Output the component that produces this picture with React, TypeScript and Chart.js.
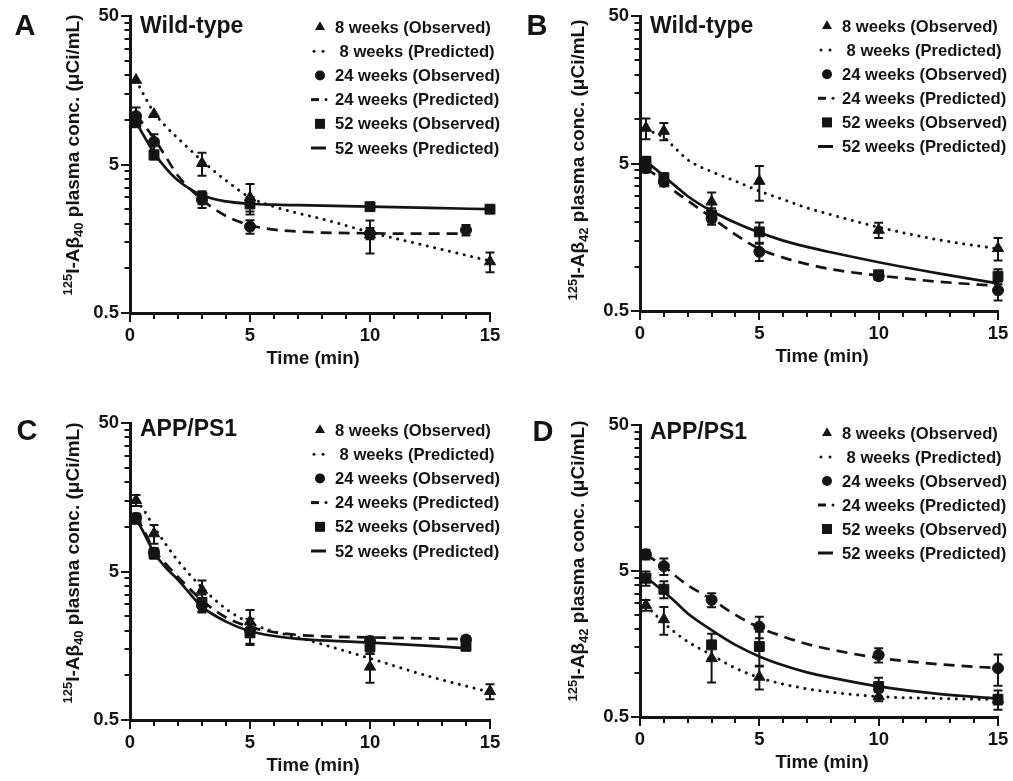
import React, { useEffect, useRef } from 'react';
import { Chart, registerables } from 'chart.js';

Chart.register(...registerables);

const FONT = '"Liberation Sans", Arial, Helvetica, sans-serif';
const INK = '#141414';

// ---- shared axes / times ----
const obsTimes15 = [0.25, 1, 3, 5, 10, 15];
const obsTimes14 = [0.25, 1, 3, 5, 10, 14];
const predTimes15 = [0.25, 0.5, 1, 1.5, 2, 3, 4, 5, 6, 7, 8, 10, 12.5, 15];
const predTimes14 = [0.25, 0.5, 1, 1.5, 2, 3, 4, 5, 6, 7, 8, 10, 12.5, 14];
const yMajorTicks = [0.5, 5, 50];
const yMinorTicks = [1, 1.5, 2, 2.5, 3, 3.5, 4, 4.5, 10, 15, 20, 25, 30, 35, 40, 45];
const xMajorTicks = [0, 5, 10, 15];
const xMinorTicks = [1, 2, 3, 4, 6, 7, 8, 9, 11, 12, 13, 14];
const legendLabels = [
  '8 weeks (Observed)',
  ' 8 weeks (Predicted)',
  '24 weeks (Observed)',
  '24 weeks (Predicted)',
  '52 weeks (Observed)',
  '52 weeks (Predicted)',
];
const xTitle = 'Time (min)';

// ---- Panel A: Wild-type, Aβ40 ----
const aObs8 = [18.5, 10.9, 5.1, 3.0, 1.68, 1.11];
const aErr8 = [0, 0, 0.9, 0.7, 0.42, 0.17];
const aPred8 = [18.5, 15.5, 11.2, 9.0, 7.5, 5.3, 3.9, 3.0, 2.6, 2.35, 2.15, 1.75, 1.4, 1.12];
const aObs24 = [10.6, 7.1, 2.9, 1.91, 1.72, 1.81];
const aErr24 = [1.5, 0.9, 0.35, 0.2, 0.15, 0.15];
const aPred24 = [10.8, 9.6, 7.5, 5.6, 4.2, 2.9, 2.25, 1.95, 1.82, 1.77, 1.74, 1.72, 1.71, 1.71];
const aObs52 = [9.7, 5.8, 3.0, 2.71, 2.6, 2.5];
const aErr52 = [0.8, 0.4, 0.3, 0.3, 0.1, 0.1];
const aPred52 = [9.7, 8.2, 6.0, 4.7, 3.9, 3.1, 2.82, 2.72, 2.68, 2.66, 2.64, 2.6, 2.55, 2.5];

// ---- Panel B: Wild-type, Aβ42 ----
const bObs8 = [8.7, 8.3, 2.75, 3.8, 1.77, 1.33];
const bErr8 = [1.4, 1.1, 0.43, 1.0, 0.21, 0.23];
const bPred8 = [8.5, 8.2, 7.5, 6.3, 5.3, 4.4, 3.8, 3.25, 2.85, 2.5, 2.25, 1.85, 1.52, 1.32];
const bObs24 = [4.65, 3.76, 2.12, 1.26, 0.86, 0.69];
const bErr24 = [0.3, 0.25, 0.2, 0.17, 0.05, 0.1];
const bPred24 = [4.6, 4.35, 3.75, 3.2, 2.8, 2.15, 1.65, 1.32, 1.15, 1.04, 0.96, 0.87, 0.79, 0.74];
const bObs52 = [5.15, 4.0, 2.24, 1.72, 0.88, 0.86];
const bErr52 = [0.4, 0.3, 0.25, 0.27, 0.05, 0.1];
const bPred52 = [5.1, 4.8, 4.1, 3.5, 3.0, 2.38, 1.98, 1.7, 1.5, 1.36, 1.25, 1.07, 0.9, 0.77];

// ---- Panel C: APP/PS1, Aβ40 ----
const cObs8 = [15.1, 9.0, 3.75, 2.3, 1.14, 0.78];
const cErr8 = [1.3, 1.3, 0.6, 0.45, 0.25, 0.09];
const cPred8 = [15.0, 13.5, 10.0, 7.6, 5.9, 3.9, 2.8, 2.25, 1.97, 1.8, 1.62, 1.3, 0.98, 0.77];
const cObs24 = [11.5, 6.7, 2.95, 2.0, 1.7, 1.74];
const cErr24 = [0.8, 0.5, 0.3, 0.4, 0.12, 0.1];
const cPred24 = [11.6, 10.0, 7.0, 5.6, 4.6, 3.2, 2.45, 2.12, 1.95, 1.87, 1.83, 1.8, 1.77, 1.75];
const cObs52 = [11.3, 6.6, 3.1, 1.93, 1.56, 1.57];
const cErr52 = [0.8, 0.5, 0.4, 0.3, 0.15, 0.1];
const cPred52 = [11.3, 9.6, 6.7, 5.3, 4.4, 2.9, 2.3, 1.98, 1.84, 1.76, 1.72, 1.66, 1.58, 1.52];

// ---- Panel D: APP/PS1, Aβ42 ----
const dObs8 = [2.92, 2.33, 1.26, 0.94, 0.69, 0.66];
const dErr8 = [0.25, 0.5, 0.4, 0.17, 0.05, 0.05];
const dPred8 = [2.9, 2.65, 2.2, 1.88, 1.64, 1.33, 1.08, 0.93, 0.84, 0.78, 0.74, 0.69, 0.67, 0.66];
const dObs24 = [6.5, 5.4, 3.17, 2.08, 1.33, 1.08];
const dErr24 = [0.5, 0.7, 0.35, 0.35, 0.15, 0.26];
const dPred24 = [6.5, 6.1, 5.4, 4.6, 4.0, 3.2, 2.5, 2.05, 1.78, 1.58, 1.45, 1.27, 1.15, 1.08];
const dObs52 = [4.46, 3.75, 1.56, 1.52, 0.81, 0.66];
const dErr52 = [0.5, 0.5, 0.3, 0.4, 0.12, 0.1];
const dPred52 = [4.5, 4.2, 3.6, 3.05, 2.56, 1.97, 1.56, 1.3, 1.13, 1.01, 0.93, 0.81, 0.72, 0.67];

type Group = { t: number[]; v: number[]; err: number[]; pt: number[]; pv: number[] };
type PanelCfg = {
  left: number; top: number; w: number; h: number;
  L: number; R: number; T: number; B: number;
  letter: string; letterX: number; letterY: number;
  title: string; titleX: number; titleY: number;
  sub: string; yLabX: number; yLabY: number;
  legX: number; legY: number; legDy: number;
  groups: Group[];
};

const panels: PanelCfg[] = [
  {
    left: 0, top: 0, w: 506, h: 390, L: 130, R: 490, T: 16, B: 313,
    letter: 'A', letterX: 25, letterY: 27, title: 'Wild-type', titleX: 140, titleY: 27,
    sub: '40', yLabX: 72, yLabY: 155, legX: 320, legY: 27, legDy: 24.2,
    groups: [
      { t: obsTimes15, v: aObs8, err: aErr8, pt: predTimes15, pv: aPred8 },
      { t: obsTimes14, v: aObs24, err: aErr24, pt: predTimes14, pv: aPred24 },
      { t: obsTimes15, v: aObs52, err: aErr52, pt: predTimes15, pv: aPred52 },
    ],
  },
  {
    left: 506, top: 0, w: 507, h: 390, L: 134, R: 492, T: 16, B: 311,
    letter: 'B', letterX: 31, letterY: 27, title: 'Wild-type', titleX: 144, titleY: 27,
    sub: '42', yLabX: 71, yLabY: 160, legX: 321, legY: 26, legDy: 24.1,
    groups: [
      { t: obsTimes15, v: bObs8, err: bErr8, pt: predTimes15, pv: bPred8 },
      { t: obsTimes15, v: bObs24, err: bErr24, pt: predTimes15, pv: bPred24 },
      { t: obsTimes15, v: bObs52, err: bErr52, pt: predTimes15, pv: bPred52 },
    ],
  },
  {
    left: 0, top: 390, w: 506, h: 391, L: 130, R: 490, T: 33, B: 330,
    letter: 'C', letterX: 27, letterY: 42, title: 'APP/PS1', titleX: 140, titleY: 40,
    sub: '40', yLabX: 72, yLabY: 173, legX: 320, legY: 40, legDy: 24.2,
    groups: [
      { t: obsTimes15, v: cObs8, err: cErr8, pt: predTimes15, pv: cPred8 },
      { t: obsTimes14, v: cObs24, err: cErr24, pt: predTimes14, pv: cPred24 },
      { t: obsTimes14, v: cObs52, err: cErr52, pt: predTimes14, pv: cPred52 },
    ],
  },
  {
    left: 506, top: 390, w: 507, h: 391, L: 134, R: 492, T: 35, B: 327,
    letter: 'D', letterX: 37, letterY: 43, title: 'APP/PS1', titleX: 144, titleY: 43,
    sub: '42', yLabX: 71, yLabY: 171, legX: 321, legY: 43, legDy: 24,
    groups: [
      { t: obsTimes15, v: dObs8, err: dErr8, pt: predTimes15, pv: dPred8 },
      { t: obsTimes15, v: dObs24, err: dErr24, pt: predTimes15, pv: dPred24 },
      { t: obsTimes15, v: dObs52, err: dErr52, pt: predTimes15, pv: dPred52 },
    ],
  },
];

const pointStyles = ['triangle', 'circle', 'rect'];
const pointRadii = [6.5, 5.5, 7];
const lineDashes: number[][] = [[0.1, 7.5], [11, 7], []];
const lineWidths = [3, 2.7, 2.7];
const lineCaps = ['round', 'butt', 'butt'];

function drawMarker(ctx: CanvasRenderingContext2D, style: string, x: number, y: number, r: number) {
  ctx.beginPath();
  if (style === 'triangle') {
    ctx.moveTo(x, y - r);
    ctx.lineTo(x + r * 0.866, y + r * 0.5);
    ctx.lineTo(x - r * 0.866, y + r * 0.5);
    ctx.closePath();
  } else if (style === 'circle') {
    ctx.arc(x, y, r, 0, Math.PI * 2);
  } else {
    ctx.rect(x - r, y - r, 2 * r, 2 * r);
  }
  ctx.fill();
}

function makePlugin(cfg: PanelCfg) {
  return {
    id: 'panelDecor' + cfg.letter,
    beforeDatasetsDraw(chart: any) {
      const ctx: CanvasRenderingContext2D = chart.ctx;
      const xs = chart.scales.x;
      const ys = chart.scales.y;
      ctx.save();
      ctx.strokeStyle = INK;
      ctx.lineWidth = 2;
      cfg.groups.forEach((g) => {
        g.t.forEach((t, i) => {
          const e = g.err[i];
          if (!e) return;
          const px = xs.getPixelForValue(t);
          const top = ys.getPixelForValue(g.v[i] + e);
          const bot = ys.getPixelForValue(Math.max(g.v[i] - e, 0.05));
          ctx.beginPath();
          ctx.moveTo(px, top);
          ctx.lineTo(px, bot);
          ctx.moveTo(px - 4.5, top);
          ctx.lineTo(px + 4.5, top);
          ctx.moveTo(px - 4.5, bot);
          ctx.lineTo(px + 4.5, bot);
          ctx.stroke();
        });
      });
      ctx.restore();
    },
    afterDraw(chart: any) {
      const ctx: CanvasRenderingContext2D = chart.ctx;
      const xs = chart.scales.x;
      const ys = chart.scales.y;
      const area = chart.chartArea;
      ctx.save();
      ctx.strokeStyle = INK;
      ctx.fillStyle = INK;
      ctx.lineWidth = 2;
      // y ticks
      const ax = area.left;
      yMajorTicks.forEach((v) => {
        const py = Math.round(ys.getPixelForValue(v));
        ctx.beginPath(); ctx.moveTo(ax - 9, py); ctx.lineTo(ax, py); ctx.stroke();
      });
      yMinorTicks.forEach((v) => {
        const py = Math.round(ys.getPixelForValue(v));
        ctx.beginPath(); ctx.moveTo(ax - 5.5, py); ctx.lineTo(ax, py); ctx.stroke();
      });
      // x ticks
      const ay = area.bottom;
      xMajorTicks.forEach((t) => {
        const px = Math.round(xs.getPixelForValue(t));
        ctx.beginPath(); ctx.moveTo(px, ay); ctx.lineTo(px, ay + 9); ctx.stroke();
      });
      xMinorTicks.forEach((t) => {
        const px = Math.round(xs.getPixelForValue(t));
        ctx.beginPath(); ctx.moveTo(px, ay); ctx.lineTo(px, ay + 6); ctx.stroke();
      });

      // panel letter
      ctx.textBaseline = 'middle';
      ctx.textAlign = 'center';
      ctx.font = `bold 29px ${FONT}`;
      ctx.fillText(cfg.letter, cfg.letterX, cfg.letterY);
      // title
      ctx.textAlign = 'left';
      ctx.font = `bold 23px ${FONT}`;
      ctx.fillText(cfg.title, cfg.titleX, cfg.titleY);

      // x title
      ctx.textAlign = 'center';
      ctx.font = `bold 18.5px ${FONT}`;
      ctx.fillText(xTitle, (area.left + area.right) / 2 + 3, area.bottom + 46);

      // legend
      ctx.font = `bold 16.6px ${FONT}`;
      ctx.textAlign = 'left';
      legendLabels.forEach((lab, i) => {
        const y = cfg.legY + i * cfg.legDy;
        const g = Math.floor(i / 2);
        const mx = cfg.legX;
        if (i % 2 === 0) {
          drawMarker(ctx, pointStyles[g], mx, y, g === 0 ? 5.8 : 5);
        } else {
          ctx.save();
          ctx.lineWidth = 3;
          if (g === 0) {
            [mx - 6, mx + 3].forEach((dx) => {
              ctx.beginPath(); ctx.arc(dx, y, 1.5, 0, Math.PI * 2); ctx.fill();
            });
          } else if (g === 1) {
            ctx.beginPath(); ctx.moveTo(mx - 9, y); ctx.lineTo(mx - 1, y); ctx.stroke();
            ctx.beginPath(); ctx.arc(mx + 6, y, 1.5, 0, Math.PI * 2); ctx.fill();
          } else {
            ctx.beginPath(); ctx.moveTo(mx - 9, y); ctx.lineTo(mx + 6, y); ctx.stroke();
          }
          ctx.restore();
        }
        ctx.fillText(lab, mx + 15, y + 1);
      });

      // y label with super/subscript
      ctx.save();
      ctx.translate(cfg.yLabX, cfg.yLabY);
      ctx.rotate(-Math.PI / 2);
      ctx.textBaseline = 'alphabetic';
      ctx.textAlign = 'left';
      const parts = [
        { t: '125', s: 13, dy: -7 },
        { t: 'I-Aβ', s: 19, dy: 0 },
        { t: cfg.sub, s: 13, dy: 4 },
        { t: ' plasma conc. (μCi/mL)', s: 19, dy: 0 },
      ];
      let total = 0;
      parts.forEach((p) => {
        ctx.font = `bold ${p.s}px ${FONT}`;
        total += ctx.measureText(p.t).width;
      });
      let cx = -total / 2;
      parts.forEach((p) => {
        ctx.font = `bold ${p.s}px ${FONT}`;
        ctx.fillText(p.t, cx, 7 + p.dy);
        cx += ctx.measureText(p.t).width;
      });
      ctx.restore();
      ctx.restore();
    },
  };
}

function Panel({ cfg }: { cfg: PanelCfg }) {
  const ref = useRef<HTMLCanvasElement>(null);
  useEffect(() => {
    const datasets: any[] = [];
    cfg.groups.forEach((g, gi) => {
      datasets.push({
        label: legendLabels[gi * 2],
        data: g.t.map((t, i) => ({ x: t, y: g.v[i] })),
        showLine: false,
        pointStyle: pointStyles[gi],
        pointRadius: pointRadii[gi],
        pointBackgroundColor: INK,
        pointBorderColor: INK,
        pointBorderWidth: 1,
        clip: false,
        order: 1,
      });
      datasets.push({
        label: legendLabels[gi * 2 + 1],
        data: g.pt.map((t, i) => ({ x: t, y: g.pv[i] })),
        showLine: true,
        pointRadius: 0,
        borderColor: INK,
        borderWidth: lineWidths[gi],
        borderDash: lineDashes[gi],
        borderCapStyle: lineCaps[gi],
        cubicInterpolationMode: 'monotone',
        fill: false,
        clip: false,
        order: 2,
      });
    });
    const chart = new Chart(ref.current!, {
      type: 'scatter',
      data: { datasets },
      options: {
        responsive: false,
        animation: false,
        devicePixelRatio: 1,
        layout: { padding: { top: cfg.T, right: cfg.w - cfg.R, bottom: 0, left: 0 } },
        plugins: { legend: { display: false }, tooltip: { enabled: false } },
        scales: {
          x: {
            type: 'linear',
            min: 0,
            max: 15,
            afterBuildTicks: (s: any) => { s.ticks = xMajorTicks.map((v) => ({ value: v })); },
            afterFit: (s: any) => { s.height = cfg.h - cfg.B; },
            grid: { display: false, drawTicks: true, tickLength: 9 },
            border: { display: true, color: INK, width: 3 },
            ticks: {
              padding: 3,
              color: INK,
              maxRotation: 0,
              autoSkip: false,
              font: { family: FONT, size: 18.5, weight: 'bold' },
            },
          },
          y: {
            type: 'logarithmic',
            min: 0.5,
            max: 50,
            afterBuildTicks: (s: any) => { s.ticks = yMajorTicks.map((v) => ({ value: v })); },
            afterFit: (s: any) => { s.width = cfg.L; },
            grid: { display: false, drawTicks: true, tickLength: 9 },
            border: { display: true, color: INK, width: 3 },
            ticks: {
              padding: 2,
              color: INK,
              autoSkip: false,
              callback: (v: any) => String(v),
              font: { family: FONT, size: 18.5, weight: 'bold' },
            },
          },
        },
      } as any,
      plugins: [makePlugin(cfg)],
    });
    return () => chart.destroy();
  }, []);
  return (
    <canvas
      ref={ref}
      width={cfg.w}
      height={cfg.h}
      style={{ position: 'absolute', left: cfg.left, top: cfg.top, width: cfg.w, height: cfg.h }}
    />
  );
}

export default function App() {
  return (
    <div style={{ position: 'absolute', left: 0, top: 0, width: 1013, height: 781, background: '#ffffff' }}>
      {panels.map((p) => (
        <Panel key={p.letter} cfg={p} />
      ))}
    </div>
  );
}
